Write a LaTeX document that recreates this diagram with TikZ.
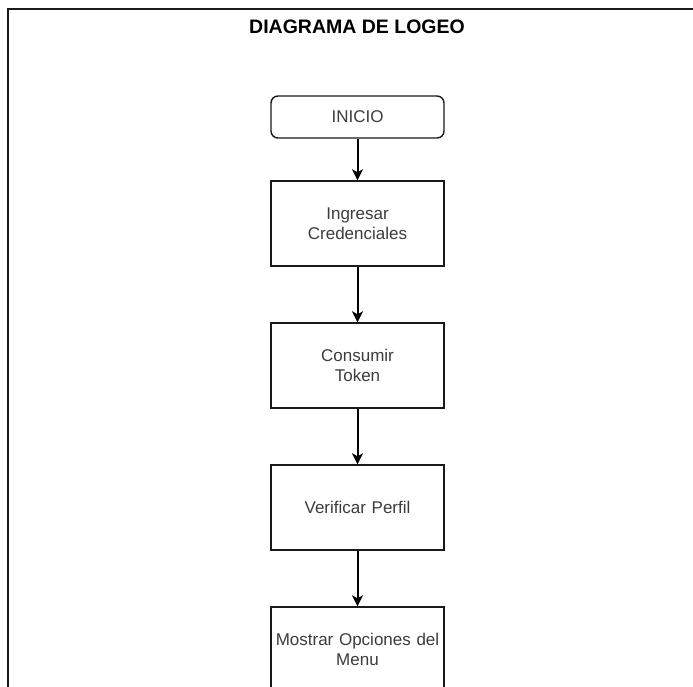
\documentclass[tikz,border=0pt]{standalone}
\usepackage{fontspec}
\setmainfont{Liberation Sans}
\usetikzlibrary{arrows.meta}
\definecolor{txtgray}{HTML}{3C3C3C}
\definecolor{linegray}{HTML}{1A1A1A}
\begin{document}
\begin{tikzpicture}[x=1pt,y=-1pt,
  stepbox/.style={draw=linegray, line width=1.4pt, fill=white,
    minimum width=171pt, minimum height=85pt, inner sep=2pt,
    align=center, text width=169pt, text=txtgray,
    font=\fontsize{17}{20}\selectfont},
  startbox/.style={stepbox, minimum height=42pt, rounded corners=7pt},
  flow/.style={draw=black, line width=2pt,
    -{Stealth[length=11pt,width=11pt,inset=3pt]}},
  frameline/.style={draw=linegray, line width=2pt}]
\useasboundingbox (0,0) rectangle (693,687);
% frame around the diagram
\coordinate (fbl) at (7.5,700);
\coordinate (ftl) at (7.5,9.5);
\coordinate (ftr) at (700,9.5);
\draw[frameline] (fbl) -- (ftl) -- (ftr);
% title
\node[font=\bfseries\fontsize{19.5}{22}\selectfont, text=black] (title) at (357,26.5) {DIAGRAMA DE LOGEO};
% flow steps
\node[startbox] (inicio) at (357.5,117) {INICIO};
\node[stepbox] (ingresar) at (357.5,223.5) {Ingresar\\Credenciales};
\node[stepbox] (consumir) at (357.5,365.5) {Consumir\\Token};
\node[stepbox] (verificar) at (357.5,507.5) {Verificar Perfil};
\node[stepbox] (mostrar) at (357.5,649.5) {Mostrar Opciones del\\Menu};
% connectors
\draw[flow] (inicio) -- (ingresar);
\draw[flow] (ingresar) -- (consumir);
\draw[flow] (consumir) -- (verificar);
\draw[flow] (verificar) -- (mostrar);
\end{tikzpicture}
\end{document}
